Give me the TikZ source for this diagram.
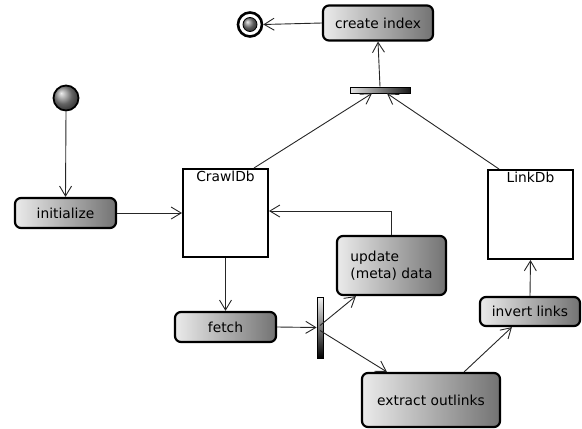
\documentclass[tikz,border=0pt]{standalone}
\usepackage{fontspec}
\setmainfont{DejaVu Sans}
\usetikzlibrary{arrows.meta,calc}
\begin{document}
\begin{tikzpicture}[x=1pt,y=-1pt,
  every node/.style={font=\fontsize{13.8}{17}\selectfont},
  act/.style={draw=black, line width=2.2pt, rounded corners=6pt, left color=black!8, right color=black!55, inner sep=0pt},
  store/.style={draw=black, line width=2pt, fill=white, inner sep=0pt},
  bar/.style={draw=black, line width=0.8pt, inner sep=0pt},
  conn/.style={draw=black!85, line width=0.9pt, -{Straight Barb[length=10pt,width=12pt,line width=0.9pt]}},
  plain/.style={draw=black!85, line width=0.9pt}
]
\useasboundingbox (0,0) rectangle (582,429);

% initial and final
\node[circle, draw=black, line width=1.8pt, minimum size=25pt, inner sep=0pt, shading=ball, ball color=black!45] (start) at (66,98) {};
\node[circle, draw=black, line width=2.6pt, fill=white, minimum size=24pt, inner sep=0pt] (final) at (250,24.5) {};
\node[circle, minimum size=14pt, inner sep=0pt, shading=ball, ball color=black!50, draw=black, line width=0.8pt] (finalin) at (250,24.5) {};

% actions
\node[act, minimum width=110pt, minimum height=35pt] (create) at (378,23) {create index};
\node[act, minimum width=101pt, minimum height=30pt] (init) at (65.5,213) {initialize};
\node[act, minimum width=101pt, minimum height=30pt] (fetch) at (225.5,327) {fetch};
\node[act, minimum width=109pt, minimum height=59pt, align=left] (update) at (391.5,265.5) {update\\(meta) data};
\node[act, minimum width=100pt, minimum height=29pt] (invert) at (530,311.5) {invert links};
\node[act, minimum width=138pt, minimum height=54pt] (extract) at (431,400) {extract outlinks};

% data stores
\node[store, minimum width=85pt, minimum height=88pt, label={[anchor=north, inner sep=3pt]north:CrawlDb}] (crawl) at (225.5,213) {};
\node[store, minimum width=85pt, minimum height=89pt, label={[anchor=north, inner sep=3pt]north:LinkDb}] (link) at (530.5,214.5) {};

% bars
\node[bar, minimum width=60pt, minimum height=6pt, left color=black!10, right color=black!90] (join) at (380,90) {};
\node[bar, minimum width=6pt, minimum height=61pt, top color=black!5, bottom color=black] (fork) at (320,327.5) {};

% connectors
\draw[conn] (create.west) -- (final.east);
\draw[conn] (join.north) -- (create.south);
\draw[conn] ([xshift=-15pt]crawl.north east) -- ([xshift=-8pt]join.south);
\draw[conn] ([xshift=12pt]link.north west) -- ([xshift=7pt]join.south);
\draw[conn] (start.south) -- (init.north);
\draw[conn] (init.east) -- (crawl.west);
\draw[conn] (update.north) |- ([yshift=2pt]crawl.east);
\draw[conn] (crawl.south) -- (fetch.north);
\draw[conn] (fetch.east) -- (fork.west);
\draw[conn] ([yshift=2pt]fork.center) -- ([xshift=20pt]update.south west);
\draw[conn] ([yshift=-3pt]fork.center) -- ([xshift=26pt]extract.north west);
\draw[conn] ([xshift=-37pt]extract.north east) -- ([xshift=33pt]invert.south west);
\draw[conn] (invert.north) -- (link.south);
\end{tikzpicture}
\end{document}
